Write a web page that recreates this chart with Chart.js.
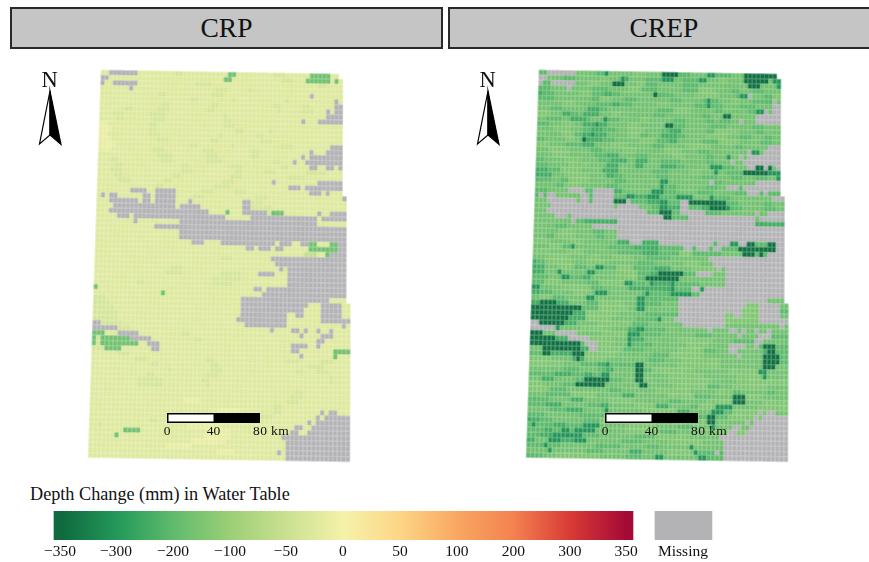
<!DOCTYPE html>
<html>
<head>
<meta charset="utf-8">
<title>Depth Change in Water Table</title>
<script src="https://cdn.jsdelivr.net/npm/chart.js@4"></script>
<style>
    html, body { margin: 0; padding: 0; background: #fff; width: 869px; height: 562px; overflow: hidden; }
    body { position: relative; font-family: "Liberation Serif", serif; color: #111; }
    .strip { position: absolute; top: 7px; height: 42px; box-sizing: border-box; border: 2px solid #2a2a2a; background: #c4c5c4;
             font-size: 27.5px; line-height: 38px; text-align: center; }
    .legend-title { position: absolute; left: 30px; top: 484px; font-size: 18.2px; line-height: 20px; }
    canvas { position: absolute; display: block; }
</style>
</head>
<body>
<div class="strip" style="left:10px;width:433px">CRP</div>
<div class="strip" style="left:448px;width:432px">CREP</div>
<div class="legend-title">Depth Change (mm) in Water Table</div>
<canvas id="crpChart" width="438" height="420" style="left:0;top:50px"></canvas>
<canvas id="crepChart" width="431" height="420" style="left:438px;top:50px"></canvas>
<canvas id="legendChart" width="869" height="51" style="left:0;top:511px"></canvas>
<script>
// Colour key
const legendLabels = ['\u2212350', '\u2212300', '\u2212200', '\u2212100', '\u221250', '0', '50', '100', '200', '300', '350', 'Missing'];
const legendTickPositions = [-0.053, 0.941, 1.954, 2.966, 3.96, 4.973, 5.986, 6.998, 8, 9.005, 10, 11.012];
const legendValues = [-350, -300, -200, -100, -50, 0, 50, 100, 200, 300, 350];
const legendColors = ['#0f6b3f', '#259a5a', '#62bc6d', '#9ecf76', '#cbe192', '#f5f2a9', '#fdd585', '#f9a761', '#f38250', '#d93b35', '#a50a36'];
const missingColor = '#b3b3b5';

// Depth change (mm) behind each letter used in the rows below, # is missing
const cellValues = { a: -16, b: -27, c: -38, d: -60, e: -100, f: -150, g: -172, h: -208, i: -248, j: -270, k: -305, l: -345 };

// Cells per row, letter + run length, top row first
const crpRows = [
    'b2#7b9c2b11g2b9c3b6g5b2', '#2b28g2b12c3b3g6b1g1b1', '#1b2#6b14c4b26c2b4', 'b7#1b20c3b5c1b22',
    'b14c2b11c3b21#1b7', 'b22c2b8c1b12c1b11#1b1', 'b15c2b10c2b13c2b5c2b6#2', 'b6c2b6c3b9c2b15c1b5c3b3#1b1#2',
    'b3c3b6c4b14c1b24#4', 'b4c2b7c3b14c2b17#1b3#6', 'a2b10c2b16c3b26', 'a3b9c2b19c2b6c1b17',
    'a2b10c3b14c1b8c2b19', 'a3b11c3b10c2b10c3b17', 'a4b18c2b8c1b11c3b9#3', 'a3b10c3b9c3b9c2b12#1b3#4',
    'b14c4b8c3b8c2b10#1b1#8', 'b3c2b10c3b8c4b12c2b3#1b2#9', 'b4c2b14c2b10c3b9c2b5#2b2#2b1#1', 'b3c3b14c3b10c2b5c3b7c5b4',
    'b4c2b12c2b12c3b11c4b9', 'b5c3b8c2b12c3b9#1b10#6', 'b14c2b12c4b14#3b1#9', 'b8#4b2#5b6c3b5c3b15#3b1#1b3',
    'b1#1b1#2b6#2b1#5b4c3b12c3b18#1', 'b3#7b1#2b1#5b3#1b12#2c3b20', 'b4#15b1#5b10#2c5b18', 'b3#24b4g1b3#6c1g3b8#1b2#4',
    'b5#3b1#22b6#16b1#6', 'b9#1b10#33b7', 'b14#46', 'b20#40',
    'b20#40', 'b23#3b4#13b1#3b2#2g2b3g2#2', 'b36#2b1#3b1#2b6g7#2', 'b50d3b2g1#4',
    'b30c3b9#18', 'b43#17', 'b18c3b23#1c1#14', 'b17c4b9c5b4#4b3#14',
    'b28c7b11#14', 'b10c2b16c5b13#14', 'g1b37#2b1#19', 'b16g1b23#20',
    'c3b32#21b4', 'c4b31#16b3#5b2', 'c5b30#15b4#5b2', 'c6b29#11b2#2b4#5b2',
    'c6b28#12b8#7', '#2c5b29#10b13#1b1', '#6c3b33#1b4#2b1#1b2#1b2#1b4', 'g3b3#5b10c2b26#1b4#3b4',
    'g1c1g7#5b10c2b27#2b6', 'g1c1g9b2#3b31#4b2#1b7', 'c3g4b7#2b31#2b8g4', 'b6c3b40#1b7g1b3',
    'b10c3b14c2b17c3b5c3b4', 'b14c2b12c2b21c4b6', 'b18c1b9c3b17c2b3c3b5', 'b13c2b12c3b26c1b4',
    'b11c6b9c2b28c1b4', 'b11c6b10c1b33', 'b48c2b11', 'b47c3b11',
    'b22a4b20c3b12', 'b43c2b16', 'b30a5b8c2b9#1b1#2b3', 'b20c2b18c3b10#1b1#6',
    'b14c2b6c2b8a6b13#1b1#8', 'b2c1b20a8b17#2b2#9', 'b8g4b16a5b14#2b2#10', 'b6g1b20a6b12#16',
    'b24a8b14#15', 'b18a6b22#15', 'b30a4b10#1b1#15', 'b46#15'
];
const crepRows = [
    'h2#7g5h2k1g6f3g4l4h3g4k2h4g3l8', '#2g4h3g6f2g3k1i1g4h4k3g2h4k2g3f2g4l6g1k2', '#1h2#6g3f3g3l3g3f2h3g6h4g12l3g4k1', 'h3g4#1g5h4g5f3h4g6h4f4g4h2g3h3g4',
    'i1h3g6f3h3i2h2g8l1h4g5f6g4h1k2#1g3h2f2', 'h4g9h2f3g3h3g8h3g5h1k1h2g3f2g3h3h2#1g1', 'g6f3g5h4i2h3g6f3g6h3k1h3g4h4g4#2', 'g3h3g6i3h2g12h4f4g6h2g6h2k2#1g1#2',
    'f3g3i2h2g1i4g3f2g8h3g9h2g3l2g6#4', 'g2h4g2i4h1g3k1h3g5f2g6h3g5h2g1h3g2#1g3#6', 'h3g3f3g2i3k1i2g5f3g6l2h3g6h4g6h3g4', 'g4f4g3h2i3h3g3f4g4h2i3g6h2f6g4h2g4',
    'g6f3h2i2k1i3g5f3h2g3i4h2g5f5g3h3g3h2g2', 'h2g5f2g2l1i4h3g6f4h3i2g6h4f5g5h3g2', 'f3g4h4i3g4f4g6h3g5f6g6h2g6#3', 'g3f5g5h3g5f3g7f4g4h3g9#1k2g1#4',
    'g4f4g6h3i3g4h3g6f3g5h2g3k1g2#1g1#8', 'h2g5f4g4h3i4g2i3g3h5g6h2g4#1g2#9', 'h3g5f5g4i3g4i2g4i4h2g6k3h3g3#2l2#1l1g1#1', 'i3h3f5g5i4g8h4g5f3g3k1g2h4l6k3',
    'i4g3f6g4i2h2g8h3g8h4g3h3g3h3g2k1', 'h4g2h2f5g6h3g8k2g10#1h2g8#6', 'g5h2f4g6h3g10k1h3g7h3g2#3h1#9', 'h3g5#4h2#5i2g7k3h3g5h4g5h3#3h1#1h3',
    'h1#1h1#2g6#2h1#5h3k2i3k3h4k4g4k1h4g10#1', 'g3#7g1#2h1#5l3#1h4i3k2h3#2l9h3g6h2g3', 'g4#15g1#5g3h2k2i3#2h3i2l4k1h3g5h3g2', 'g3#24h3l3h2#6h4g8#1g2#4',
    'g5#3g1#22l2h4#16g1#6', 'g9#1h2i8#33i7', 'g5h3g6#46', 'g6f4g4h3g3#40',
    'g3h2f5g5h2g3#40', 'f4g5f3g8i3#3i4#13h1#3k2#2l2h3l2#2', 'g4f3h2k1g8h6i6h6#2h1#3h1#2h4l9#2', 'f4g4f4g8h6i4h5f3h7g5l3h1l1h1#4',
    'g3f6g4f3g3f5g3h6g9#18', 'i1h2f7g3f4g8h4g7f4g3#17', 'i3g3f4h3g2k2h3f4h5i4g5f6#1g1#14', 'i3g3k1g6k2g5f5h3i2l6h3#4g3#14',
    'h4g3k2h3i2g6f5h2l8g11#14', 'h3f4g6h3f6k2h3g1k1i4k1h6g6#14', 'k2g5f7h3g6i4i6k1h4#2k1#19', 'i2h3g5f4g1k3g8h1k1h5k5h2#20',
    'g2f3h3g5k2g10k2h8#21g4', 'i2l4i3g4h3f6g3k2h4g4#16f3#5g2', 'l12h4f7g2k2g8#15f4#5h2', 'l10i3f8g6h8#11f2#2f4#5g2',
    'l9i4f6g6h5k1g3#12f8#7', '#2l6i3g5f8h4g8#10g13#1g1', '#6k1g5f7g4i2k2h5g10#1g4#2g1#1g2#1g2#1g4', 'l3g3#5g6f6k3h5g8h4g6#1g4#3h4',
    'l6i3#5f6g3k1i3g8f8g5h5#2g6', 'l12h1#3f4g3k1h5g8f5g5#4g2#1h1l3h3', 'g3l9i2#2f6h5g8f6h3g3#2g6i1l2h3', 'h3l2i5l3f8g8h4f8g8#1g5l4h2',
    'f5g5i1l1i1f5g10h4g4f9g10l4h2', 'f8g4h4i2k1h6l2g8f10g10l3g3', 'g8h4g4h2i2g5l2h2f10g8f7k2g5', 'h6i4h3i2h2k2g6l2g6f8g8f6k1g5',
    'g3i3g5h2l6h3g3l2g6f10g6f12', 'f4g4h3l7g8l2g6f8h3g3f8g5', 'f5h4g10h3g8f8g6f4h2g6h2g3', 'g4h6f6g6i3g8f6h4g5l3f4g6',
    'h5g5i3g6f6g8h3g6f6l3g4f6', 'h4i4g6h3i2g6f5i3g5h2f4k4g6f7', 'g5h4i4g5k1g8f8i3g5k3h2f6#1f1#2g3', 'h4g8h6f8g6f8h2l2h3f6#1f1#6',
    'i3h3g7h4f7g6h4f8l2g7#1g1#8', 'h1k1h4i3h4k4g6f7g5h4g4k1g4#2g2#9', 'h4i2h2k2h1k5g7f8h4g8f4#2f2#10', 'h3i3k7h4g8h5f8g7#16',
    'i2g3k3i3k3g8h5g6f8g5#15', 'h4k1h3g8h6g6h3g7k1g7#15', 'g5k1g8h4g6i3g6f6k1h4#1h1#15', 'h4g3f10g6h4g3k2g8k2h4#15'
];

// Scale bar distances (km) and their labels
const scaleDistances = [0, 40, 80];
const scaleLabels = ['0', '40', '80 km'];

function hexToRgb(hex) {
    return [1, 3, 5].map(i => parseInt(hex.substr(i, 2), 16));
}

function colorForValue(value) {
    if (value === null) return missingColor;
    for (let i = 1; i < legendValues.length; i++) {
        if (value <= legendValues[i]) {
            const t = (value - legendValues[i - 1]) / (legendValues[i] - legendValues[i - 1]);
            const a = hexToRgb(legendColors[i - 1]);
            const b = hexToRgb(legendColors[i]);
            return `rgb(${a.map((v, k) => Math.round(v + (b[k] - v) * t)).join(',')})`;
        }
    }
    return legendColors[legendColors.length - 1];
}

// One small canvas per colour, used as the point style of the raster cells.
// Soft edges so neighbours overlap and only leave a faint seam.
const cellImages = {};
function cellImage(color) {
    if (!cellImages[color]) {
        const img = document.createElement('canvas');
        img.width = 5;
        img.height = 6;
        const c = img.getContext('2d');
        c.fillStyle = color;
        c.fillRect(0.38, 0.42, 4.24, 5.16);
        cellImages[color] = img;
    }
    return cellImages[color];
}

function columnsInRow(r) {
    if (r < 1) return 58;
    if (r < 24) return 59;
    if (r < 45) return 60;
    return 61;
}

// The raster is slightly warped: rows widen and drift left going south
function buildCells(rows) {
    const cells = [];
    rows.forEach((row, r) => {
        const letters = [];
        row.replace(/([a-l#])(\d*)/g, (m, letter, count) => {
            for (let i = 0; i < (count ? parseInt(count) : 1); i++) letters.push(letter);
        });
        const width = 4.10 + 0.00255 * r;
        for (let c = 0; c < columnsInRow(r); c++) {
            const letter = letters[c] || letters[letters.length - 1];
            cells.push({
                x: 101 - 0.171 * r + (c + 0.5) * width,
                y: 70 + 5.1 * r + 0.07 * c + 2.55,
                v: letter === '#' ? null : cellValues[letter]
            });
        }
    });
    return cells;
}

const mapFurniture = {
    id: 'mapFurniture',
    afterDatasetsDraw(chart) {
        const { ctx, scales: { x, y } } = chart;
        const px = v => x.getPixelForValue(v);
        const py = v => y.getPixelForValue(v);
        ctx.save();

        // north arrow
        ctx.fillStyle = '#111';
        ctx.font = '22.5px "Liberation Serif"';
        ctx.textAlign = 'center';
        ctx.textBaseline = 'alphabetic';
        ctx.fillText('N', px(49.5), py(87));
        ctx.lineWidth = 1.2;
        ctx.strokeStyle = '#000';
        ctx.lineJoin = 'miter';
        ctx.beginPath();
        ctx.moveTo(px(50), py(91));
        ctx.lineTo(px(39.5), py(144));
        ctx.lineTo(px(50), py(135));
        ctx.closePath();
        ctx.fillStyle = '#fff';
        ctx.fill();
        ctx.stroke();
        ctx.beginPath();
        ctx.moveTo(px(50), py(91));
        ctx.lineTo(px(61), py(144.5));
        ctx.lineTo(px(50), py(135));
        ctx.closePath();
        ctx.fillStyle = '#000';
        ctx.fill();
        ctx.stroke();

        // scale bar, 93 units wide for 80 km
        const kmToX = km => 167 + km * 93 / 80;
        ctx.fillStyle = '#000';
        ctx.fillRect(px(kmToX(0)), py(413), px(kmToX(80)) - px(kmToX(0)), py(423) - py(413));
        ctx.fillStyle = '#fff';
        ctx.fillRect(px(kmToX(0)) + 1.5, py(414.5), px(kmToX(40)) - px(kmToX(0)) - 1.5, py(421.5) - py(414.5));
        ctx.fillStyle = '#111';
        ctx.font = '13.5px "Liberation Serif"';
        scaleDistances.forEach((km, i) => {
            const label = scaleLabels[i];
            if (label.length > 2) {
                ctx.textAlign = 'left';
                ctx.letterSpacing = '0.4px';
                ctx.fillText(label, px(kmToX(km)) - 7, py(435));
                ctx.letterSpacing = '0px';
            } else {
                ctx.textAlign = 'center';
                ctx.fillText(label, px(kmToX(km)), py(435));
            }
        });
        ctx.restore();
    }
};

function createMapChart(id, rows, xMax) {
    new Chart(document.getElementById(id), {
        type: 'scatter',
        data: {
            datasets: [{
                data: buildCells(rows),
                pointRadius: 3,
                pointRotation: 1,
                pointStyle: c => cellImage(colorForValue(c.raw.v))
            }]
        },
        options: {
            responsive: false,
            animation: false,
            events: [],
            layout: { padding: 0, autoPadding: false },
            scales: {
                x: { type: 'linear', display: false, min: 0, max: xMax },
                y: { type: 'linear', display: false, min: 50, max: 470, reverse: true }
            },
            plugins: { legend: { display: false }, tooltip: { enabled: false } }
        },
        plugins: [mapFurniture]
    });
}

createMapChart('crpChart', crpRows, 438);
createMapChart('crepChart', crepRows, 431);

// Legend: the x axis counts tick positions, the colour bar and the swatch are floating bars on it
const barStart = -0.16;
const barEnd = 10.124;
function legendGradient(context) {
    const { chart } = context;
    if (!chart.chartArea) return legendColors[0];
    const x = chart.scales.x;
    const g = chart.ctx.createLinearGradient(x.getPixelForValue(barStart), 0, x.getPixelForValue(barEnd), 0);
    g.addColorStop(0, legendColors[0]);
    legendColors.forEach((color, i) => {
        g.addColorStop(Math.min(1, Math.max(0, (i - barStart) / (barEnd - barStart))), color);
    });
    return g;
}

new Chart(document.getElementById('legendChart'), {
    type: 'bar',
    data: {
        labels: ['key'],
        datasets: [
            { data: [[barStart, barEnd]], backgroundColor: legendGradient, barPercentage: 1, categoryPercentage: 1 },
            { data: [[10.515, 11.527]], backgroundColor: missingColor, barPercentage: 1, categoryPercentage: 1 }
        ]
    },
    options: {
        indexAxis: 'y',
        responsive: false,
        animation: false,
        events: [],
        grouped: false,
        layout: { padding: 0, autoPadding: false },
        scales: {
            x: {
                type: 'linear',
                min: -63 / 56.3,
                max: (869 - 63) / 56.3,
                grid: { display: false, drawTicks: false },
                border: { display: false },
                afterBuildTicks: axis => { axis.ticks = legendTickPositions.map(value => ({ value })); },
                afterFit: axis => { axis.height = 22; },
                ticks: {
                    autoSkip: false,
                    maxRotation: 0,
                    padding: 3,
                    color: '#111',
                    font: { family: '"Liberation Serif"', size: 15.5 },
                    callback: (value, index) => legendLabels[index]
                }
            },
            y: { display: false }
        },
        plugins: { legend: { display: false }, tooltip: { enabled: false } }
    }
});
</script>
</body>
</html>
